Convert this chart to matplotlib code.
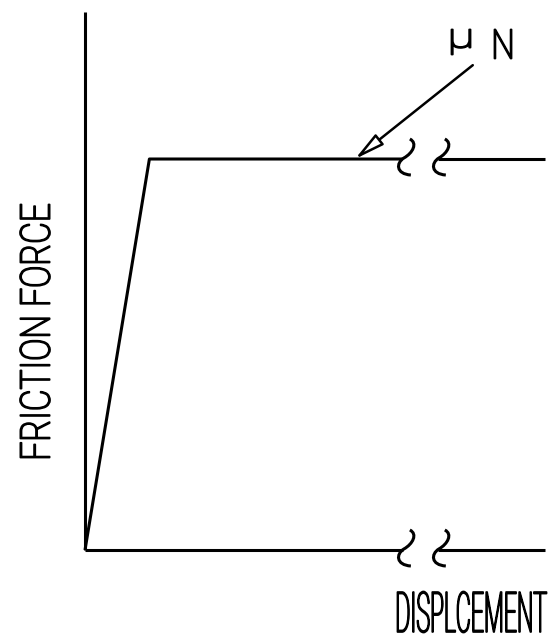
import numpy as np
import matplotlib
matplotlib.use("Agg")
import matplotlib.pyplot as plt
from matplotlib import patheffects as pe
from matplotlib.path import Path
from matplotlib.patches import PathPatch
from matplotlib.transforms import Affine2D

# friction curve: displacement (normalised) vs friction force (plateau = muN)
displacement = [0.0, 0.14, 1.0]
friction = [0.0, 1.0, 1.0]
break_at = [0.691, 0.767]  # axis break marks on the displacement axis
force_top = 1.376          # top of the force axis
arrow_from = (0.843, 1.24)
arrow_to = (0.587, 1.0)

W, H = 557, 642


class FitBox(pe.AbstractPathEffect):
    """Draw a text path stretched to fill a box (pixels, centre + size)."""

    def __init__(self, cx, cy, w, h, lw=1.3):
        super().__init__()
        self.box = (cx, H - cy, w, h)
        self.lw = lw

    def draw_path(self, renderer, gc, tpath, affine, rgbFace=None):
        cx, cy, w, h = self.box
        ext = tpath.get_extents()
        m = affine.get_matrix()
        s = np.sqrt(abs(m[0, 0] * m[1, 1] - m[0, 1] * m[1, 0]))
        sx = w / (ext.width * s)
        sy = h / (ext.height * s)
        mx, my = (ext.x0 + ext.x1) / 2, (ext.y0 + ext.y1) / 2
        t = Affine2D().translate(-mx, -my).scale(sx, sy) + affine
        ox, oy = affine.transform((0, 0))
        t = t + Affine2D().translate(cx - ox, cy - oy)
        gc0 = renderer.new_gc()
        gc0.copy_properties(gc)
        gc0.set_linewidth(self.lw)
        renderer.draw_path(gc0, tpath, t, rgbFace)
        gc0.restore()


fig = plt.figure(figsize=(W / 100, H / 100), dpi=100)
ax = fig.add_axes([85 / W, 92 / H, 460 / W, 538 / H])
ax.set_xlim(0, 1)
ax.set_ylim(0, force_top)
ax.axis("off")

lw = 2.2
kw = dict(color="black", lw=lw, solid_capstyle="butt", clip_on=False)

# axes with a break in the displacement axis
ax.plot([0, 0], [0, force_top], **kw)
ax.plot([0, break_at[0]], [0, 0], **kw)
ax.plot([break_at[1], displacement[-1]], [0, 0], **kw)

# friction curve, broken at the same place
ax.plot([displacement[0], displacement[1], break_at[0]],
        [friction[0], friction[1], friction[1]], **kw)
ax.plot([break_at[1], displacement[2]], [friction[2], friction[2]], **kw)

# break squiggles (shape in pixels, y down)
verts = [(7, -20), (15, -16), (10, -6), (1, -1), (-7, 4), (-7, 15), (8, 16)]
codes = [Path.MOVETO] + [Path.CURVE4] * 6
squiggle = Path(verts, codes)
for level in [0.0, friction[1]]:
    for bx in break_at:
        tr = Affine2D().scale(1 / 460, -1 / 391).translate(bx, level) + ax.transData
        ax.add_patch(PathPatch(squiggle, transform=tr, fc="none", ec="black",
                               lw=lw, clip_on=False))

# muN arrow
ax.annotate("", xy=arrow_to, xytext=arrow_from,
            arrowprops=dict(arrowstyle="-|>,head_length=0.9,head_width=0.2",
                            fc="white", ec="black", lw=1.8, mutation_scale=20,
                            shrinkA=0, shrinkB=0))

fam = ["Roboto", "DejaVu Sans"]
tkw = dict(family=fam, weight="light", ha="center", va="center", color="black",
           fontsize=13)
fig.text(35 / W, 1 - 331 / H, "FRICTION FORCE", rotation=90,
         path_effects=[FitBox(35, 331, 253, 30)], **tkw)
fig.text(472 / W, 1 - 612 / H, "DISPLCEMENT",
         path_effects=[FitBox(472, 612, 149, 41)], **tkw)
fig.text(461 / W, 1 - 42 / H, "μ",
         path_effects=[FitBox(461, 42, 19, 25, lw=1.3)], **tkw)
fig.text(503 / W, 1 - 44 / H, "N",
         path_effects=[FitBox(503, 44, 17, 29)], **tkw)

fig.savefig("out.png", dpi=100, facecolor="white")
plt.close(fig)
